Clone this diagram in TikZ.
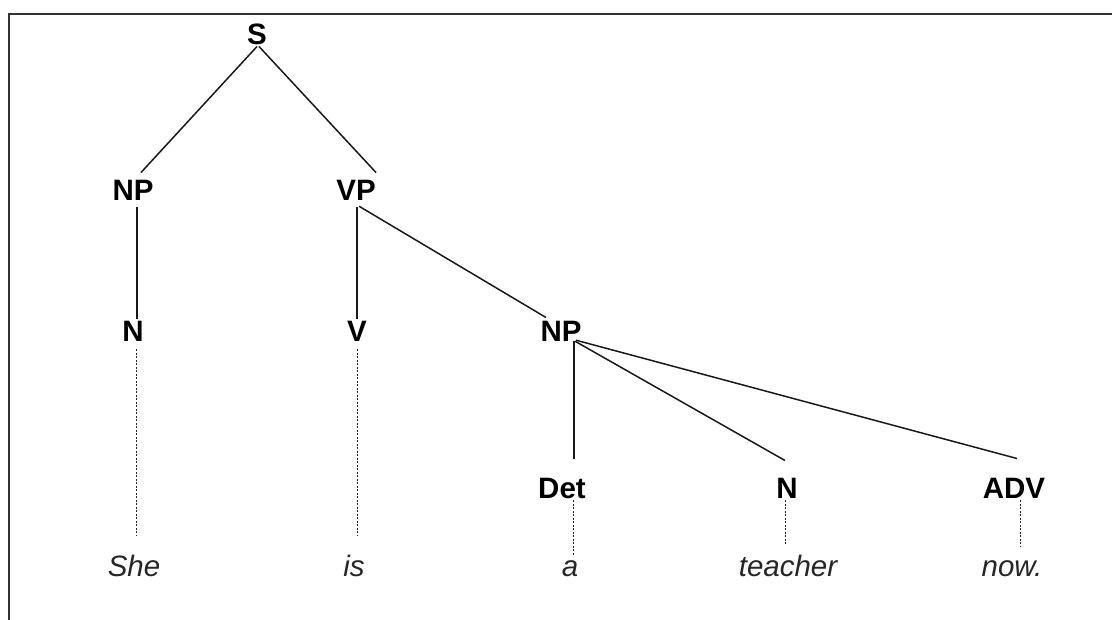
\documentclass[tikz,border=0pt]{standalone}
\usepackage{fontspec}
\setmainfont{Liberation Sans}
\usetikzlibrary{calc}
\tikzset{
  cat/.style={inner sep=0pt, anchor=base, font=\fontsize{29.5}{34}\selectfont\bfseries, text=black},
  word/.style={inner sep=0pt, anchor=base, font=\fontsize{29.5}{34}\selectfont\itshape, text=black!85},
  branch/.style={draw=black!90, line width=1.5pt},
  leaf/.style={draw=black!85, line width=1pt, dash pattern=on 2pt off 1.5pt},
  frame/.style={draw=black!80, line width=2.5pt}
}
\begin{document}
\begin{tikzpicture}[x=1pt,y=-1pt]
\useasboundingbox (0,0) rectangle (1112,619);
\draw[frame] (1113,14) -- (9,14) -- (9,620);
% categories
\node[cat] (s) at (257,44) {S};
\node[cat] (np1) at (133,200) {NP};
\node[cat] (vp) at (356,200) {VP};
\node[cat] (n1) at (133,341) {N};
\node[cat] (v) at (357,341) {V};
\node[cat] (np2) at (561,341) {NP};
\node[cat] (det) at (562,498) {Det};
\node[cat] (n2) at (787,498) {N};
\node[cat] (adv) at (1014,498) {ADV};
% words
\node[word] (she) at (134,576) {She};
\node[word] (is) at (354,576) {is};
\node[word] (a) at (570,576) {a};
\node[word] (teacher) at (788,576) {teacher};
\node[word] (now) at (1012,576) {now.};
% branches
\draw[branch] ($(s.south)+(0,2)$) -- ($(np1.north)+(8,-7)$);
\draw[branch] ($(s.south)+(2,2)$) -- ($(vp.north)+(20,-7)$);
\draw[branch] ($(np1.south)+(4,7)$) -- ($(n1.north)+(4,-2)$);
\draw[branch] ($(vp.south)+(1,7)$) -- ($(v.north)+(0,-2)$);
\draw[branch] ($(vp.south)+(3,6)$) -- ($(np2.north)+(-15,-3)$);
\draw[branch] ($(np2.south)+(13,0)$) -- ($(det.north)+(12,-19)$);
\draw[branch] ($(np2.south)+(14,0)$) -- ($(n2.north)+(-2,-17)$);
\draw[branch] ($(np2.south)+(15,-1)$) -- ($(adv.north)+(3,-19)$);
% leaves
\draw[leaf] ($(n1.south)+(3,8)$) -- ($(she.north)+(2,-18)$);
\draw[leaf] ($(v.south)+(0,8)$) -- ($(is.north)+(3,-18)$);
\draw[leaf] ($(det.south)+(11,2)$) -- ($(a.north)+(3,-4)$);
\draw[leaf] ($(n2.south)+(-2,2)$) -- ($(teacher.north)+(-3,-10)$);
\draw[leaf] ($(adv.south)+(6,2)$) -- ($(now.north)+(8,-13)$);
\end{tikzpicture}
\end{document}
